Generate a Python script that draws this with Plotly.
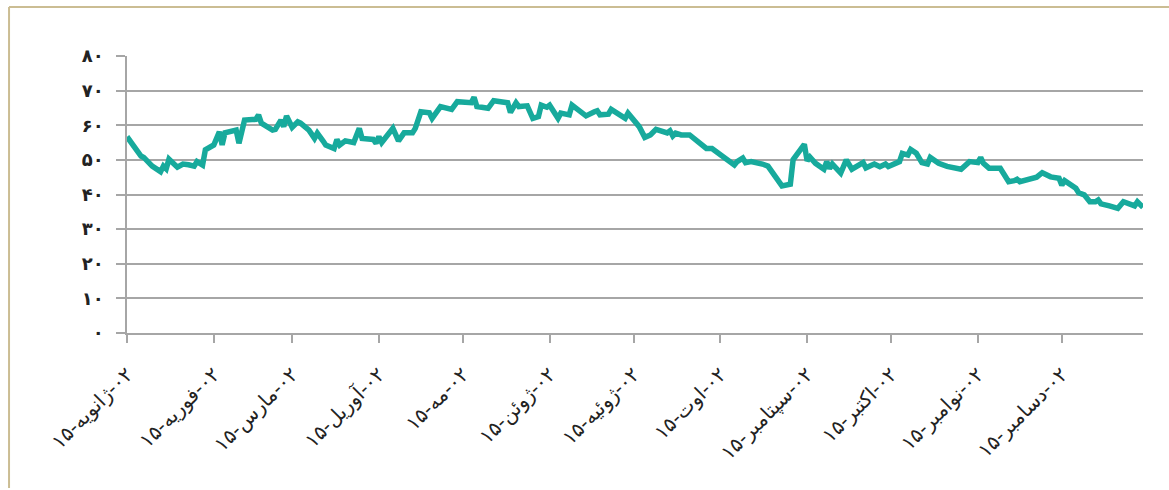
import plotly.graph_objects as go

# تاریخ‌ها و قیمت‌ها (خوانده‌شده از نمودار)
dates = [
    "2015-01-02", "2015-01-05", "2015-01-07", "2015-01-08", "2015-01-11", "2015-01-14",
    "2015-01-15", "2015-01-16", "2015-01-17", "2015-01-20", "2015-01-22", "2015-01-24",
    "2015-01-26", "2015-01-27", "2015-01-29", "2015-01-30", "2015-02-02", "2015-02-04",
    "2015-02-05", "2015-02-06", "2015-02-10", "2015-02-11", "2015-02-13", "2015-02-17",
    "2015-02-18", "2015-02-19", "2015-02-23", "2015-02-24", "2015-02-26", "2015-02-27",
    "2015-02-28", "2015-03-02", "2015-03-04", "2015-03-05", "2015-03-08", "2015-03-10",
    "2015-03-11", "2015-03-13", "2015-03-14", "2015-03-17", "2015-03-18", "2015-03-19",
    "2015-03-21", "2015-03-24", "2015-03-26", "2015-03-27", "2015-03-31", "2015-04-01",
    "2015-04-02", "2015-04-03", "2015-04-07", "2015-04-09", "2015-04-11", "2015-04-14",
    "2015-04-15", "2015-04-17", "2015-04-20", "2015-04-21", "2015-04-24", "2015-04-28",
    "2015-04-30", "2015-05-05", "2015-05-06", "2015-05-07", "2015-05-11", "2015-05-13",
    "2015-05-18", "2015-05-19", "2015-05-21", "2015-05-22", "2015-05-25", "2015-05-27",
    "2015-05-29", "2015-05-30", "2015-06-01", "2015-06-02", "2015-06-05", "2015-06-06",
    "2015-06-09", "2015-06-10", "2015-06-13", "2015-06-15", "2015-06-18", "2015-06-19",
    "2015-06-20", "2015-06-23", "2015-06-24", "2015-06-26", "2015-06-28", "2015-06-29",
    "2015-06-30", "2015-07-02", "2015-07-04", "2015-07-06", "2015-07-08", "2015-07-10",
    "2015-07-12", "2015-07-14", "2015-07-15", "2015-07-16", "2015-07-17", "2015-07-19",
    "2015-07-22", "2015-07-25", "2015-07-28", "2015-07-30", "2015-08-04", "2015-08-05",
    "2015-08-07", "2015-08-08", "2015-08-10", "2015-08-11", "2015-08-13", "2015-08-17",
    "2015-08-19", "2015-08-24", "2015-08-27", "2015-08-28", "2015-09-01", "2015-09-02",
    "2015-09-03", "2015-09-05", "2015-09-08", "2015-09-09", "2015-09-10", "2015-09-11",
    "2015-09-14", "2015-09-16", "2015-09-18", "2015-09-22", "2015-09-23", "2015-09-26",
    "2015-09-28", "2015-09-30", "2015-10-01", "2015-10-05", "2015-10-06", "2015-10-08",
    "2015-10-09", "2015-10-11", "2015-10-13", "2015-10-15", "2015-10-16", "2015-10-19",
    "2015-10-22", "2015-10-27", "2015-10-28", "2015-10-30", "2015-11-02", "2015-11-03",
    "2015-11-04", "2015-11-06", "2015-11-10", "2015-11-13", "2015-11-15", "2015-11-16",
    "2015-11-17", "2015-11-19", "2015-11-21", "2015-11-23", "2015-11-25", "2015-11-28",
    "2015-12-01", "2015-12-02", "2015-12-03", "2015-12-07", "2015-12-08", "2015-12-10",
    "2015-12-12", "2015-12-14", "2015-12-15", "2015-12-16", "2015-12-19", "2015-12-22",
    "2015-12-24", "2015-12-26", "2015-12-28", "2015-12-29", "2015-12-31",
]
prices = [
    56.7, 53.3, 51.1, 50.7, 48.2, 46.6,
    48.2, 47.4, 50.2, 47.9, 48.8, 48.6,
    48.2, 49.5, 48.5, 52.9, 54.3, 58.1,
    54.3, 57.8, 58.6, 54.8, 61.5, 61.7,
    63.0, 60.6, 58.6, 58.8, 61.5, 59.6,
    62.7, 59.4, 61.0, 60.6, 58.6, 56.2,
    57.7, 55.5, 54.3, 53.3, 55.9, 54.3,
    55.5, 55.0, 59.1, 56.2, 55.9, 54.8,
    56.7, 55.0, 59.1, 55.5, 57.8, 57.8,
    59.1, 63.9, 63.6, 62.0, 65.4, 64.6,
    66.8, 66.5, 68.1, 65.4, 64.9, 67.1,
    66.5, 63.7, 66.5, 65.4, 65.6, 62.0,
    62.5, 65.8, 65.2, 65.8, 62.0, 63.5,
    63.0, 65.8, 63.9, 62.7, 63.9, 64.2,
    63.0, 63.2, 64.6, 63.5, 62.7, 62.0,
    63.5, 61.7, 59.6, 56.5, 57.2, 58.8,
    58.4, 57.8, 58.4, 56.9, 57.7, 57.2,
    57.2, 55.0, 53.3, 53.3, 50.0, 49.5,
    48.5, 49.5, 50.5, 49.2, 49.5, 48.8,
    48.2, 42.5, 43.0, 50.1, 54.5, 49.7,
    50.8, 49.0, 47.3, 49.5, 47.5, 48.8,
    46.2, 50.0, 47.3, 49.2, 47.7, 48.8,
    48.0, 48.8, 48.1, 49.5, 51.9, 51.4,
    53.0, 51.9, 49.2, 48.8, 50.7, 49.0,
    48.1, 47.3, 48.1, 49.5, 49.2, 50.7,
    49.0, 47.6, 47.6, 43.7, 44.0, 44.4,
    43.7, 44.2, 44.7, 45.0, 46.3, 45.1,
    44.7, 42.7, 44.0, 41.8, 40.5, 39.9,
    37.9, 37.9, 38.4, 37.3, 36.7, 36.0,
    37.9, 37.5, 36.7, 37.9, 36.3,
]

# برچسب‌های محورها
tick_dates = [
    "2015-01-02", "2015-02-02", "2015-03-02", "2015-04-02", "2015-05-02", "2015-06-02",
    "2015-07-02", "2015-08-02", "2015-09-02", "2015-10-02", "2015-11-02", "2015-12-02",
]
month_names = [
    "ژانویه", "فوریه", "مارس", "آوریل", "مه", "ژوئن",
    "ژوئیه", "اوت", "سپتامبر", "اکتبر", "نوامبر", "دسامبر",
]
y_ticks = [0, 10, 20, 30, 40, 50, 60, 70, 80]
y_labels = ["۰", "۱۰", "۲۰", "۳۰", "۴۰", "۵۰", "۶۰", "۷۰", "۸۰"]

# ترتیب نمایشی: ۱۵-ماه-۰۲ (LRM برای نگه داشتن ۰۲ در سمت راست)
x_labels = [f"۱۵-{m}\u200e-۰۲" for m in month_names]

GRID = "#a6a6a6"
TEAL = "#17aa9c"
FRAME = "#cbbd93"
FONT = "DejaVu Sans, Noto Sans, sans-serif"

fig = go.Figure()

fig.add_trace(go.Scatter(
    x=dates,
    y=prices,
    mode="lines",
    line=dict(color=TEAL, width=5.5),
    showlegend=False,
    hoverinfo="skip",
))

# کادر بژ بالا و چپ
fig.add_shape(type="line", xref="paper", yref="paper",
              x0=-0.1161, x1=1.05, y0=1.1769, y1=1.1769,
              line=dict(color=FRAME, width=2))
fig.add_shape(type="line", xref="paper", yref="paper",
              x0=-0.1161, x1=-0.1161, y0=1.1769, y1=-0.56,
              line=dict(color=FRAME, width=2))

fig.update_layout(
    width=1169,
    height=490,
    margin=dict(l=127, r=26, t=56, b=157),
    plot_bgcolor="white",
    paper_bgcolor="white",
    font=dict(family=FONT, color="#222222"),
    xaxis=dict(
        type="date",
        range=["2015-01-02", "2015-12-31"],
        tickmode="array",
        tickvals=tick_dates,
        ticktext=x_labels,
        tickangle=-45,
        ticks="outside",
        ticklen=8,
        tickcolor=GRID,
        tickwidth=1.5,
        showgrid=False,
        showline=True,
        linecolor=GRID,
        linewidth=1.5,
        tickfont=dict(size=20, color="#222222"),
        ticklabelstandoff=12,
    ),
    yaxis=dict(
        range=[0, 80],
        tickmode="array",
        tickvals=y_ticks,
        ticktext=y_labels,
        ticks="outside",
        ticklen=9,
        tickcolor=GRID,
        tickwidth=1.5,
        showgrid=True,
        gridcolor=GRID,
        gridwidth=1.5,
        zeroline=False,
        showline=True,
        linecolor=GRID,
        linewidth=1.5,
        tickfont=dict(size=18, color="#222222", weight="bold"),
        ticklabelstandoff=9,
    ),
)

fig.write_html(
    "out.html",
    config={"displayModeBar": False},
    post_script="document.body.style.margin='0';",
)
